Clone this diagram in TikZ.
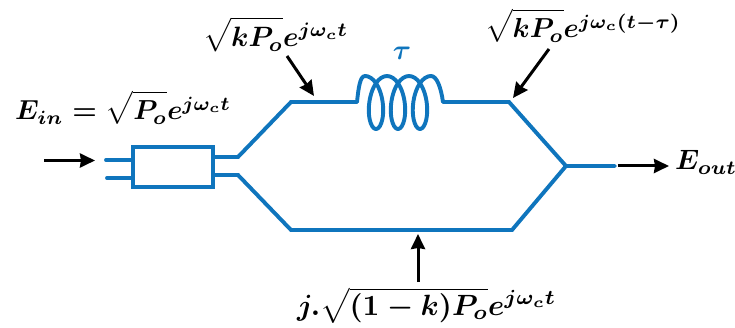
\documentclass[tikz,border=0pt]{standalone}
\usepackage{amsmath}
\usepackage{graphicx}
\usetikzlibrary{arrows.meta}
\definecolor{guide}{HTML}{0F75BD}
\newcommand{\fm}[1]{\scalebox{2.8}{\boldmath$#1$}}
\newcommand{\fmn}[1]{\scalebox{2.75}{\boldmath$#1$}}
\newcommand{\fmw}[1]{\scalebox{2.93}{\boldmath$#1$}}
\newcommand{\tall}{\rule{0pt}{9.2pt}}
\tikzset{
  guideline/.style={draw=guide,line width=3.9pt,line join=miter,line cap=round},
  pointer/.style={draw=black,line width=3pt,-{Stealth[length=15pt,width=14pt,inset=1pt]}},
  formula/.style={inner sep=0pt},
}
\begin{document}
\begin{tikzpicture}[x=1pt,y=-1pt]
\useasboundingbox (0,0) rectangle (735,328);
% labels
\node[formula,anchor=base west] (ein) at (15,120) {\fmn{E_{in}=\sqrt{\tall P_o}e^{j\omega_c t}}};
\node[formula,anchor=base west] (ktop) at (203,47) {\fm{\sqrt{\tall kP_o}e^{j\omega_c t}}};
\node[formula,anchor=base west] (kdel) at (485,38) {\fmn{\sqrt{\tall kP_o}e^{j\omega_c (t-\tau)}}};
\node[formula,anchor=base west] (eout) at (675,170) {\fm{E_{out}}};
\node[formula,anchor=base west] (low) at (297,315) {\fmw{j.\sqrt{(1-k)P_o}e^{j\omega_c t}}};
\node[formula,text=guide,anchor=center] (tau) at (402,53) {\fm{\tau}};
% coupler
\node[draw=guide,line width=3.9pt,minimum width=80pt,minimum height=40pt,inner sep=0pt,outer sep=0pt,anchor=north west] (box) at (133,147) {};
\coordinate (inA) at (106,160);
\coordinate (inB) at (107,178);
\coordinate (boxA) at (133,160);
\coordinate (boxB) at (133,178);
\coordinate (outA) at (213,157);
\coordinate (outB) at (213,175);
\coordinate (kneeA) at (238,157);
\coordinate (kneeB) at (238,175);
\coordinate (upL) at (291,102);
\coordinate (coilL) at (357,102);
\coordinate (coilR) at (443,102);
\coordinate (upR) at (509,102);
\coordinate (join) at (566,166);
\coordinate (exit) at (615,166);
\coordinate (lowL) at (291,230);
\coordinate (lowR) at (512,230);
\draw[guideline] (inA) -- (boxA);
\draw[guideline] (inB) -- (boxB);
\draw[guideline] (outA) -- (kneeA) -- (upL) -- (coilL);
\draw[guideline] (outB) -- (kneeB) -- (lowL) -- (lowR) -- (join);
\draw[guideline] (coilR) -- (upR) -- (join) -- (exit);
% coil
\draw[guideline,line join=round] (coilL) .. controls (358.5,88) and (360,76) .. (365,76)
  -- plot[smooth,samples=100,domain=0:18.85,variable=\t] ({365+3.5*\t+12.2*sin(\t r)},{102.5-26.5*cos(\t r)})
  .. controls (437,76) and (441,88) .. (coilR);
% pointers
\coordinate (a1s) at (44,160.5);
\coordinate (a1e) at (95,160.5);
\coordinate (a2s) at (618,166);
\coordinate (a2e) at (669,166);
\coordinate (a3s) at (287,56);
\coordinate (a3e) at (314,96);
\coordinate (a4s) at (549,49);
\coordinate (a4e) at (513,98);
\coordinate (a5s) at (418,282);
\coordinate (a5e) at (418,234);
\draw[pointer] (a1s) -- (a1e);
\draw[pointer] (a2s) -- (a2e);
\draw[pointer] (a3s) -- (a3e);
\draw[pointer] (a4s) -- (a4e);
\draw[pointer] (a5s) -- (a5e);
\end{tikzpicture}
\end{document}
